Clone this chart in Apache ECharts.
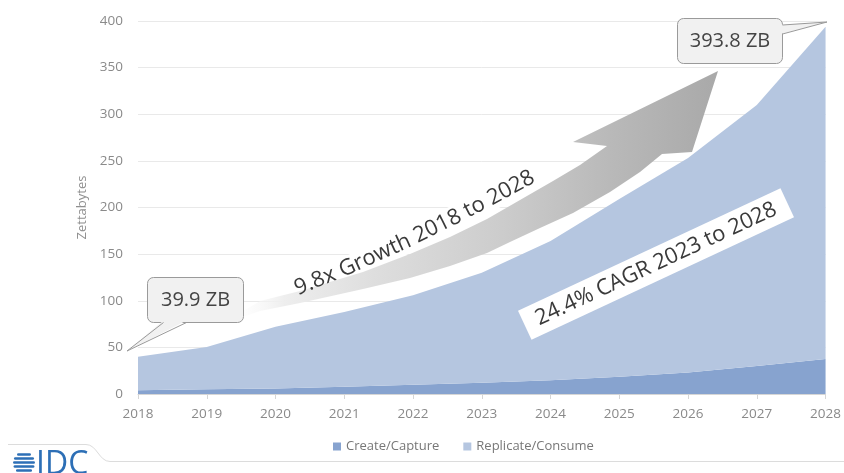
<!DOCTYPE html>
<html><head><meta charset="utf-8">
<script src="https://cdn.jsdelivr.net/npm/echarts@6/dist/echarts.min.js"></script>
<style>html,body{margin:0;padding:0;background:#fff}#c{width:844px;height:473px}</style>
</head><body><div id="c"></div>
<script>
const years = ['2018','2019','2020','2021','2022','2023','2024','2025','2026','2027','2028'];
const createCapture = [4.0, 5.0, 6.0, 7.8, 10.0, 12.0, 14.7, 18.6, 23.0, 30.0, 37.5];
const replicateConsume = [35.9, 45.5, 66.0, 80.2, 96.0, 118.0, 149.3, 190.4, 230.0, 280.0, 356.3];
const legendNames = ['Create/Capture', 'Replicate/Consume'];
const yAxisName = 'Zettabytes';
const startLabel = '39.9 ZB';
const endLabel = '393.8 ZB';
const growthLabel = '9.8x Growth 2018 to 2028';
const cagrLabel = '24.4% CAGR 2023 to 2028';
const logoText = 'IDC';

const FONT = '"Open Sans", "Noto Sans", sans-serif';
const chart = echarts.init(document.getElementById('c'), null, {renderer: 'canvas'});

function measure(txt, font) {
  const cv = document.createElement('canvas').getContext('2d');
  cv.font = font; return cv.measureText(txt).width;
}
function curvedWords(text, font, P0, C, P2) {
  const N = 400, pts = [], cum = [0];
  for (let i = 0; i <= N; i++) {
    const t = i / N, a = (1-t)*(1-t), b = 2*t*(1-t), c = t*t;
    pts.push([a*P0[0]+b*C[0]+c*P2[0], a*P0[1]+b*C[1]+c*P2[1]]);
    if (i > 0) cum.push(cum[i-1] + Math.hypot(pts[i][0]-pts[i-1][0], pts[i][1]-pts[i-1][1]));
  }
  const L = cum[N];
  const words = text.split(' ');
  const sp = measure(' ', font);
  const ws = words.map(w => measure(w, font));
  const W = ws.reduce((s, v) => s + v, 0) + sp * (words.length - 1);
  let s = (L - W) / 2;
  const out = [];
  words.forEach((w, k) => {
    const sc = s + ws[k] / 2;
    let i = 1; while (i < N && cum[i] < sc) i++;
    const f = (sc - cum[i-1]) / (cum[i] - cum[i-1] || 1);
    const x = pts[i-1][0] + f*(pts[i][0]-pts[i-1][0]);
    const y = pts[i-1][1] + f*(pts[i][1]-pts[i-1][1]);
    const ang = Math.atan2(-(pts[i][1]-pts[i-1][1]), pts[i][0]-pts[i-1][0]);
    out.push({w, x, y, ang});
    s += ws[k] + sp;
  });
  return out;
}
const gFont = '22px ' + FONT;
const growthWords = curvedWords(growthLabel, gFont, [288, 292], [400, 250], [540, 172]);

const arrowPts = [
  [225,322],[260,301],[300,291],[363,272],[410,254],[450,237],[487,219],[520,200],[553,181],[580,165],[607,146],
  [573,142],[718,71],[692,152],
  [662,154],[640,172],[610,192],[573,213],[540,228],[510,242],[487,253],[450,266],[410,278],[363,289],[300,303],[260,311],[225,323]
];

const graphics = [];
growthWords.forEach(g => graphics.push({
  type: 'text', x: g.x, y: g.y, rotation: g.ang, z: 100, silent: true,
  style: {text: g.w, font: gFont, fill: 'rgba(255,255,255,0)', backgroundColor: '#fff', padding: [1, 3], align: 'center', verticalAlign: 'middle'}
}));
graphics.push({
  type: 'polygon', z: 101, silent: true, shape: {points: arrowPts},
  style: {fill: new echarts.graphic.LinearGradient(0, 0, 1, 0, [
    {offset: 0, color: 'rgba(255,255,255,0)'},
    {offset: 0.12, color: '#eeeeee'},
    {offset: 0.3, color: '#dedede'},
    {offset: 0.55, color: '#cdcdcd'},
    {offset: 0.78, color: '#b9b9b9'},
    {offset: 1, color: '#a9a9a9'}
  ])}
});
growthWords.forEach(g => graphics.push({
  type: 'text', x: g.x, y: g.y, rotation: g.ang, z: 102, silent: true,
  style: {text: g.w, font: gFont, fill: '#3a3a3a', align: 'center', verticalAlign: 'middle'}
}));
graphics.push({
  type: 'text', x: 656, y: 264, rotation: 25 * Math.PI / 180, z: 103, silent: true,
  style: {text: cagrLabel, font: '22px ' + FONT, fill: '#3a3a3a', backgroundColor: '#fff', padding: [5, 13], align: 'center', verticalAlign: 'middle', lineHeight: 22}
});
function callout(rect, tri, label) {
  graphics.push({type: 'rect', z: 104, silent: true, shape: {x: rect[0], y: rect[1], width: rect[2], height: rect[3], r: 6},
    style: {fill: '#f1f1f1', stroke: '#9a9a9a', lineWidth: 1}});
  graphics.push({type: 'polygon', z: 105, silent: true, shape: {points: tri.fill}, style: {fill: '#f1f1f1'}});
  graphics.push({type: 'polyline', z: 106, silent: true, shape: {points: tri.line}, style: {stroke: '#9a9a9a', lineWidth: 1, fill: null}});
  graphics.push({type: 'text', z: 107, silent: true, x: rect[0] + rect[2] / 2, y: rect[1] + rect[3] / 2,
    style: {text: label, font: '20px ' + FONT, fill: '#444', align: 'center', verticalAlign: 'middle'}});
}
callout([147.5, 277.5, 96, 45], {fill: [[163.5, 320.5], [127, 351], [186.5, 320.5]], line: [[163.5, 322.5], [127, 351], [186.5, 322.5]]}, startLabel);
callout([677.5, 18.5, 105, 45], {fill: [[780.5, 25], [827, 22], [780.5, 34]], line: [[782.5, 25], [827, 22], [782.5, 34]]}, endLabel);

graphics.push({type: 'polyline', z: 50, silent: true, shape: {points: [[8, 444.5], [86, 444.5]]}, style: {stroke: '#dcdcdc', lineWidth: 1, fill: null}});
graphics.push({type: 'bezierCurve', z: 50, silent: true, shape: {x1: 86, y1: 444.5, cpx1: 97, cpy1: 444.5, cpx2: 99, cpy2: 461.5, x2: 110, y2: 461.5}, style: {stroke: '#dcdcdc', lineWidth: 1, fill: null}});
graphics.push({type: 'polyline', z: 50, silent: true, shape: {points: [[110, 461.5], [844, 461.5]]}, style: {stroke: '#dcdcdc', lineWidth: 1, fill: null}});
const gcx = 24, gcy = 463, gr = 11;
[-8.5, -4.5, -0.5, 3.5, 7.5].forEach(dy => {
  const hw = Math.sqrt(Math.max(0, gr * gr - dy * dy));
  graphics.push({type: 'rect', z: 50, silent: true, shape: {x: gcx - hw, y: gcy + dy - 1.3, width: 2 * hw, height: 2.6, r: 1.3}, style: {fill: '#2d6fb6'}});
});
graphics.push({type: 'text', z: 50, silent: true, x: 36, y: 465,
  style: {text: logoText, font: '32px ' + FONT, fill: '#2d6fb6', align: 'left', verticalAlign: 'middle'}});

chart.setOption({
  animation: false,
  backgroundColor: '#fff',
  textStyle: {fontFamily: FONT},
  grid: {left: 138, right: 17, top: 21, bottom: 79},
  legend: {
    data: legendNames, left: 328, top: 435, itemWidth: 8, itemHeight: 8, itemGap: 24, icon: 'rect',
    textStyle: {color: '#777', fontSize: 13, fontFamily: FONT}
  },
  xAxis: {
    type: 'category', data: years, boundaryGap: false,
    axisLine: {lineStyle: {color: '#d6d6d6'}},
    axisTick: {show: true, length: 5, lineStyle: {color: '#d6d6d6'}},
    axisLabel: {color: '#8a8a8a', fontSize: 13.5, margin: 13, fontFamily: FONT},
    splitLine: {show: false}
  },
  yAxis: {
    type: 'value', min: 0, max: 400, interval: 50,
    name: yAxisName, nameLocation: 'middle', nameRotate: 90, nameGap: 41,
    nameTextStyle: {color: '#8f8f8f', fontSize: 13, fontFamily: FONT},
    axisLine: {show: false}, axisTick: {show: false},
    axisLabel: {color: '#8a8a8a', fontSize: 13.5, margin: 15, fontFamily: FONT},
    splitLine: {lineStyle: {color: '#e9e9e9'}}
  },
  series: [
    {name: legendNames[0], type: 'line', stack: 'total', data: createCapture, symbol: 'none',
      lineStyle: {width: 0}, itemStyle: {color: '#87a3cf'}, areaStyle: {color: '#87a3cf', opacity: 1}},
    {name: legendNames[1], type: 'line', stack: 'total', data: replicateConsume, symbol: 'none',
      lineStyle: {width: 0}, itemStyle: {color: '#b5c6e0'}, areaStyle: {color: '#b5c6e0', opacity: 1}}
  ],
  graphic: {elements: graphics}
});
</script></body></html>
